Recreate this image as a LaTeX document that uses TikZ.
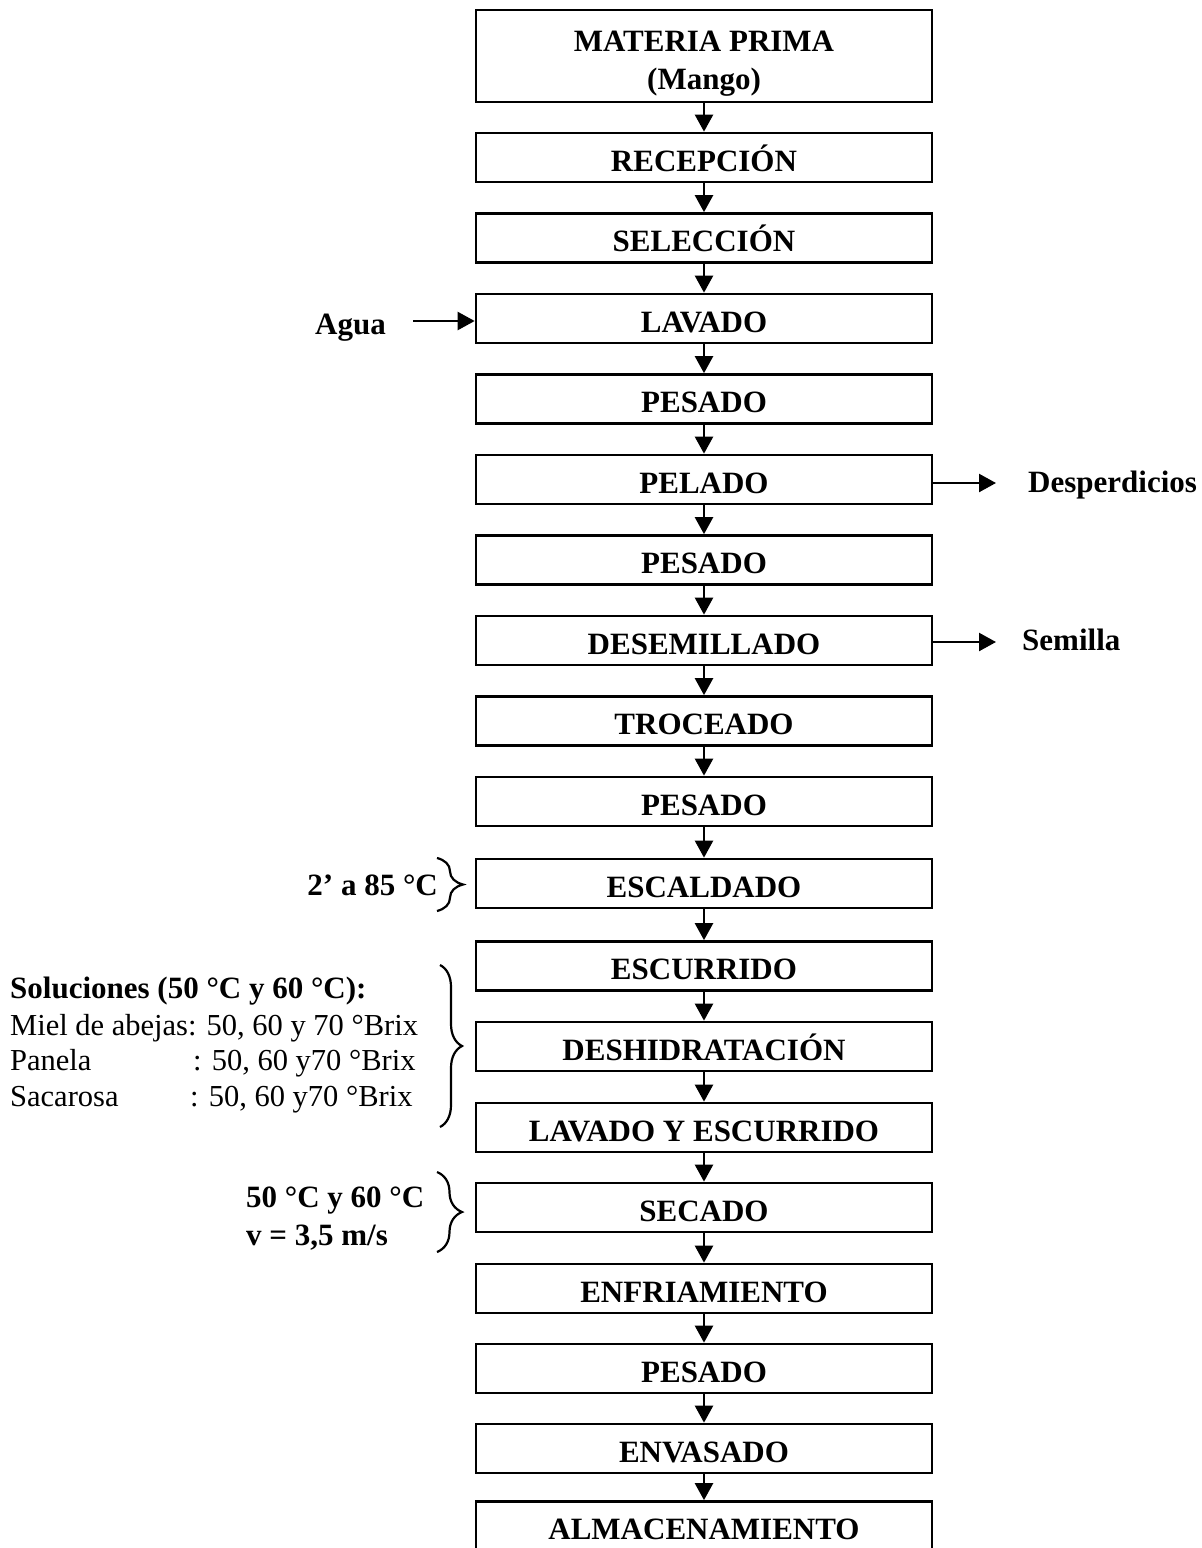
\documentclass[tikz,border=0pt]{standalone}
\usepackage{fontspec}
\setmainfont{Liberation Serif}
\usetikzlibrary{arrows.meta,decorations.pathreplacing}
\begin{document}
\begin{tikzpicture}[x=1pt,y=-1pt,
  stepbox/.style={draw,line width=2.7pt,minimum width=456pt,minimum height=49pt,inner sep=0pt,
     font=\fontsize{31}{34}\selectfont\bfseries,text height=27pt,text depth=0pt},
  flow/.style={line width=2.4pt,-{Triangle[length=17pt,width=18pt]}},
  sidetxt/.style={inner sep=0pt,font=\fontsize{31}{34}\selectfont\bfseries},
  plaintxt/.style={inner sep=0pt,font=\fontsize{30.5}{36}\selectfont},
  bracestyle/.style={line width=2.2pt,decorate}]
\useasboundingbox (0,0) rectangle (1202,1548);
\fill[white] (0,0) rectangle (1202,1548);
% boxes
\node[stepbox,minimum height=92pt] (b1) at (704,56) {};
\node[sidetxt,anchor=base] (b1a) at (704,51) {MATERIA PRIMA};
\node[sidetxt,anchor=base] (b1b) at (704,89) {(Mango)};
\node[stepbox] (b2) at (704,157.5) {RECEPCIÓN};
\node[stepbox] (b3) at (704,238) {SELECCIÓN};
\node[stepbox] (b4) at (704,318.5) {LAVADO};
\node[stepbox] (b5) at (704,399) {PESADO};
\node[stepbox] (b6) at (704,479.5) {PELADO};
\node[stepbox] (b7) at (704,560) {PESADO};
\node[stepbox] (b8) at (704,640.5) {DESEMILLADO};
\node[stepbox] (b9) at (704,721) {TROCEADO};
\node[stepbox] (b10) at (704,801.5) {PESADO};
\node[stepbox] (b11) at (704,883.5) {ESCALDADO};
\node[stepbox] (b12) at (704,966) {ESCURRIDO};
\node[stepbox] (b13) at (704,1046.5) {DESHIDRATACIÓN};
\node[stepbox] (b14) at (704,1127.5) {LAVADO Y ESCURRIDO};
\node[stepbox] (b15) at (704,1207.5) {SECADO};
\node[stepbox] (b16) at (704,1288.5) {ENFRIAMIENTO};
\node[stepbox] (b17) at (704,1368.5) {PESADO};
\node[stepbox] (b18) at (704,1448.5) {ENVASADO};
\node[stepbox] (b19) at (704,1526) {ALMACENAMIENTO};
% main flow arrows
\foreach \a/\b in {b1/b2,b2/b3,b3/b4,b4/b5,b5/b6,b6/b7,b7/b8,b8/b9,b9/b10,b10/b11,
                   b11/b12,b12/b13,b13/b14,b14/b15,b15/b16,b16/b17,b17/b18,b18/b19}
  \draw[flow] (\a.south) -- (\b.north);
% side inputs / outputs
\coordinate (aguaStart) at (413,321);
\coordinate (despEnd) at (996,483);
\coordinate (semEnd) at (996,642);
\node[sidetxt,anchor=base east] (agua) at (386,334) {Agua};
\node[sidetxt,anchor=base west] (desp) at (1028,492) {Desperdicios};
\node[sidetxt,anchor=base west] (sem) at (1022,650) {Semilla};
\draw[flow] (aguaStart) -- (b4.west |- aguaStart);
\draw[flow] (b6.east |- despEnd) -- (despEnd);
\draw[flow] (b8.east |- semEnd) -- (semEnd);
% braces
\coordinate (br1a) at (437,858);
\coordinate (br1b) at (437,911);
\coordinate (br2a) at (440,965);
\coordinate (br2b) at (440,1127);
\coordinate (br3a) at (437,1172);
\coordinate (br3b) at (437,1252);
\draw[bracestyle,decoration={brace,amplitude=26pt}] (br1a) -- (br1b);
\draw[bracestyle,decoration={brace,amplitude=22pt}] (br2a) -- (br2b);
\draw[bracestyle,decoration={brace,amplitude=25pt}] (br3a) -- (br3b);
% annotations
\node[sidetxt,anchor=base east] (escal) at (438,895) {2’ a 85 °C};
\node[sidetxt,anchor=base west] (solt) at (10,998) {Soluciones (50 °C y 60 °C):};
\node[plaintxt,anchor=base west] (sol1) at (10,1035) {Miel de abejas: 50, 60 y 70 °Brix};
\node[plaintxt,anchor=base west] (sol2) at (10,1070) {\makebox[183pt][l]{Panela}: 50, 60 y70 °Brix};
\node[plaintxt,anchor=base west] (sol3) at (10,1106) {\makebox[180pt][l]{Sacarosa}: 50, 60 y70 °Brix};
\node[sidetxt,anchor=base west] (sec1) at (246,1207) {50 °C y 60 °C};
\node[sidetxt,anchor=base west] (sec2) at (246,1245) {v = 3,5 m/s};
\end{tikzpicture}
\end{document}
